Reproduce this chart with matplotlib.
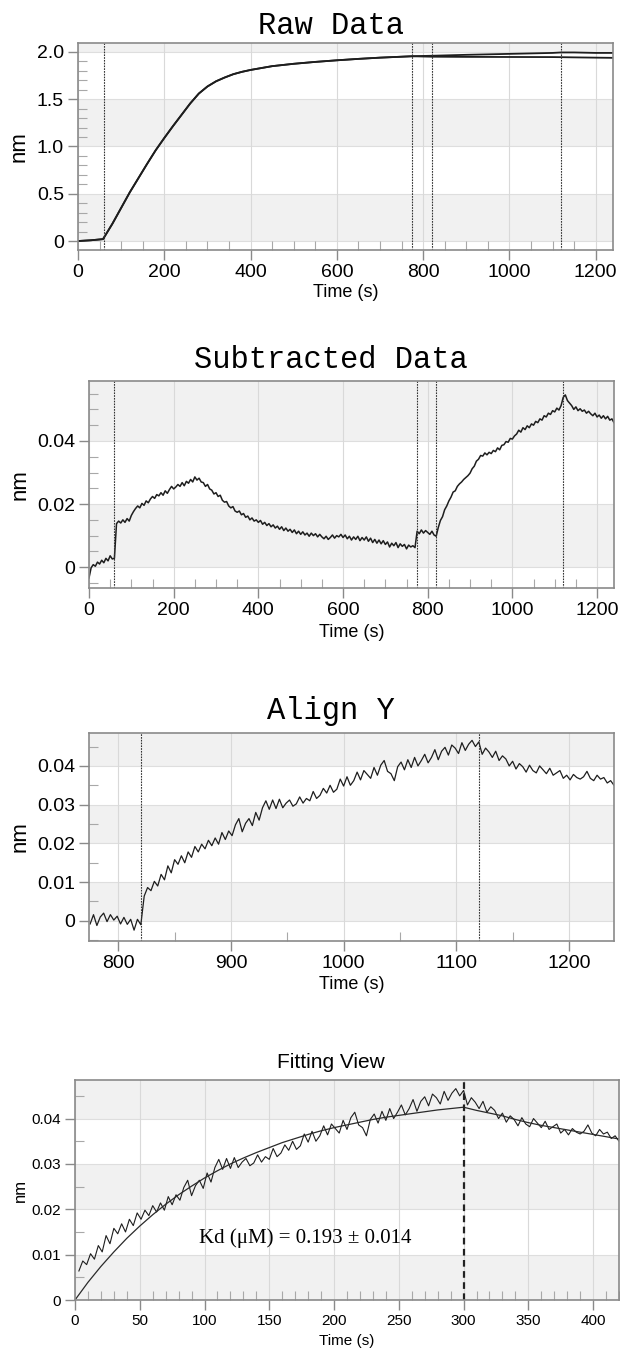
import numpy as np
import matplotlib.pyplot as plt
from matplotlib.ticker import MultipleLocator, FuncFormatter

# ---- Raw Data (nm) ----
raw_time = [0, 30, 58, 80, 100, 120, 140, 160, 180, 200, 220, 240, 260, 280, 300,
            320, 340, 360, 380, 400, 450, 500, 550, 600, 650, 700, 775, 800, 820,
            900, 1000, 1100, 1120, 1150, 1200, 1240]
raw_sample = [0.0, 0.008, 0.02, 0.185, 0.35, 0.515, 0.665, 0.815, 0.96, 1.09, 1.215,
              1.335, 1.455, 1.56, 1.635, 1.69, 1.73, 1.765, 1.79, 1.81, 1.85, 1.875,
              1.895, 1.912, 1.927, 1.94, 1.955, 1.958, 1.96, 1.97, 1.98, 1.99, 1.995,
              1.995, 1.99, 1.99]
raw_reference = [0.0, 0.008, 0.02, 0.185, 0.35, 0.515, 0.665, 0.815, 0.96, 1.09, 1.215,
                 1.335, 1.455, 1.56, 1.635, 1.69, 1.73, 1.765, 1.79, 1.81, 1.85, 1.875,
                 1.895, 1.912, 1.927, 1.94, 1.955, 1.952, 1.95, 1.948, 1.947, 1.946,
                 1.945, 1.943, 1.94, 1.938]

# ---- Subtracted Data, every 5 s from 0 s (units of 1e-3 nm) ----
sub_start, sub_step = 0, 5
sub_values = [
    -3.4, -0.2, 0.8, 0.3, 1.6, 1.0, 2.2, 1.4, 2.8, 2.0,
    3.6, 2.6, 2.8, 13.8, 14.6, 14.0, 15.0, 14.2, 15.4, 14.6,
    16.4, 17.6, 18.6, 19.4, 18.8, 20.2, 19.6, 21.0, 20.4, 21.6,
    22.4, 21.8, 23.0, 22.6, 23.6, 22.8, 24.2, 23.4, 24.6, 25.6,
    24.8, 25.4, 26.2, 25.6, 26.8, 25.8, 27.2, 26.6, 27.8, 27.0,
    28.6, 27.6, 28.2, 27.0, 26.8, 25.6, 26.2, 24.8, 24.4, 23.2,
    23.6, 22.4, 22.8, 21.2, 20.6, 20.8, 19.4, 18.8, 19.2, 17.8,
    17.4, 17.8, 16.6, 17.0, 15.8, 16.2, 15.0, 15.6, 14.6, 15.0,
    14.2, 14.8, 13.6, 14.2, 13.2, 13.8, 12.8, 13.4, 12.4, 13.0,
    12.0, 12.8, 11.6, 12.4, 11.4, 12.0, 11.0, 11.8, 10.6, 11.4,
    10.4, 11.2, 10.2, 10.8, 9.8, 10.8, 10.0, 10.6, 9.6, 10.4,
    9.6, 9.0, 9.8, 8.8, 9.4, 10.2, 9.2, 10.0, 9.6, 10.4,
    9.4, 10.2, 9.0, 9.8, 8.6, 9.6, 8.8, 9.8, 8.4, 9.4,
    8.6, 9.6, 8.2, 9.2, 7.8, 8.8, 7.6, 8.6, 7.4, 8.4,
    7.2, 8.0, 6.4, 7.6, 6.8, 7.8, 6.2, 7.4, 6.6, 7.2,
    5.8, 7.0, 6.4, 6.8, 6.2, 11.4, 10.6, 11.8, 10.8, 11.6,
    11.0, 10.4, 11.4, 10.2, 9.8, 12.6, 14.8, 16.0, 18.2, 19.4,
    21.0, 22.2, 23.8, 24.2, 25.6, 26.4, 27.0, 27.8, 28.4, 29.0,
    29.8, 31.2, 32.0, 33.6, 34.2, 35.4, 35.2, 36.2, 35.6, 36.4,
    36.0, 37.0, 36.6, 37.8, 37.2, 38.6, 38.8, 39.8, 39.6, 40.8,
    40.6, 41.6, 42.2, 43.4, 42.8, 44.2, 43.6, 44.8, 44.2, 45.4,
    45.0, 46.2, 45.8, 47.0, 46.6, 48.0, 47.6, 48.8, 48.4, 49.6,
    49.2, 50.4, 49.8, 51.2, 53.8, 54.6, 52.8, 52.0, 51.2, 50.0,
    50.8, 49.6, 50.2, 49.4, 49.8, 48.8, 49.4, 48.6, 48.0, 48.8,
    47.6, 48.2, 47.2, 48.0, 47.0, 47.8, 46.6, 47.0, 45.8,
]

# ---- Align Y, every 3 s from 775 s (units of 1e-3 nm) ----
align_start, align_step = 775, 3
align_values = [
    -0.8, 1.6, -1.2, 1.0, 2.0, -0.2, 1.6, 0.2, 1.2, -0.8, 0.9, -0.9, 0.4, -2.4, 0.4,
    -1.0,
    6.4, 8.6, 7.8, 10.2, 9.0, 12.0, 10.6, 14.2, 12.4, 15.8,
    14.6, 16.8, 15.0, 17.8, 16.4, 19.2, 17.8, 19.8, 18.6, 20.8,
    19.4, 21.4, 19.8, 22.8, 21.0, 23.2, 22.0, 24.8, 26.4, 23.0,
    25.2, 26.4, 24.6, 28.0, 26.0, 29.2, 31.0, 28.8, 31.2, 29.0,
    31.4, 29.2, 30.4, 31.2, 29.6, 30.2, 32.0, 30.4, 31.6, 31.0,
    33.4, 31.6, 32.4, 34.2, 33.0, 35.0, 33.2, 34.0, 36.6, 34.8,
    37.2, 35.0, 36.2, 38.4, 36.4, 38.8, 37.8, 36.8, 39.6, 37.6,
    40.2, 41.4, 38.6, 38.0, 36.2, 39.8, 41.0, 39.0, 41.6, 39.6,
    42.2, 40.0, 41.4, 43.0, 40.8, 42.2, 44.2, 41.6, 43.8, 44.8,
    42.8, 45.4, 44.6, 43.2, 46.0, 44.0, 45.6, 46.6, 45.0, 46.2,
    43.0, 44.6, 43.6, 42.2, 43.8, 41.4, 42.6, 41.8, 40.0, 41.2,
    39.2, 40.6, 39.8, 38.4, 40.2, 38.8, 38.2, 40.0, 39.0, 38.0,
    39.4, 37.6, 38.2, 38.8, 36.8, 37.6, 36.4, 37.8, 37.0, 36.6,
    37.2, 38.6, 36.8, 36.2, 37.6, 36.6, 37.0, 35.6, 36.2, 35.0,
]

# ---- Fitting View: fitted curve every 10 s (units of 1e-3 nm) ----
fit_time = list(range(0, 421, 10))
fit_values = [0.0, 3.9, 7.4, 10.6, 13.6, 16.3, 18.8, 21.1, 23.2, 25.1, 26.9, 28.5,
              30.0, 31.3, 32.5, 33.6, 34.7, 35.6, 36.5, 37.3, 38.0, 38.6, 39.2, 39.8,
              40.3, 40.7, 41.1, 41.5, 41.9, 42.2, 42.5, 41.8, 41.2, 40.6, 39.8, 39.1,
              38.5, 38.0, 37.5, 37.0, 36.5, 36.0, 35.5]

step_events = [60, 775, 820, 1120]
fit_start = 820
fit_switch = 300

sub_time = sub_start + sub_step * np.arange(len(sub_values))
sub_nm = np.array(sub_values) / 1000
align_time = align_start + align_step * np.arange(len(align_values))
align_nm = np.array(align_values) / 1000
keep = align_time > fit_start
fitview_time = align_time[keep] - fit_start
fitview_nm = align_nm[keep]
fit_nm = np.array(fit_values) / 1000

plt.rcParams['font.family'] = ['Liberation Sans', 'DejaVu Sans']

BAND = '#f1f1f1'
GRID = '#d9d9d9'
SPINE = '#8a8a8a'
TRACE = '#1e1e1e'

fig = plt.figure(figsize=(6.2, 13.5), dpi=100)


def add_ax(left, top, right, bottom):
    return fig.add_axes([left / 620, 1 - bottom / 1350,
                         (right - left) / 620, (bottom - top) / 1350])


def zero_fmt(decimals):
    return FuncFormatter(lambda v, p: '0' if abs(v) < 1e-12 else f'{v:.{decimals}f}')


def style(ax, xlim, ylim, xmaj, xmin, ymaj, ymin, bands, decimals, size, ylab_x, xlab_y,
          nm_size, time_size):
    ax.set_xlim(*xlim)
    ax.set_ylim(*ylim)
    for lo, hi in bands:
        ax.axhspan(lo, hi, color=BAND, lw=0, zorder=0)
    ax.xaxis.set_major_locator(MultipleLocator(xmaj))
    ax.xaxis.set_minor_locator(MultipleLocator(xmin))
    ax.yaxis.set_major_locator(MultipleLocator(ymaj))
    ax.yaxis.set_minor_locator(MultipleLocator(ymin))
    ax.yaxis.set_major_formatter(zero_fmt(decimals))
    ax.grid(axis='x', which='major', color=GRID, lw=0.8, zorder=0.5)
    for y in ax.get_yticks():
        if ylim[0] <= y <= ylim[1]:
            ax.axhline(y, color='#dedede', lw=0.8, zorder=0.5)
    ax.set_axisbelow(True)
    for s in ax.spines.values():
        s.set_color(SPINE)
        s.set_linewidth(1.2)
    ax.tick_params(which='major', direction='out', length=7, width=1, color=SPINE,
                   labelsize=size, pad=3)
    ax.tick_params(which='minor', direction='in', length=6.5, width=0.8, color='#a8a8a8')
    ax.set_xlabel('Time (s)', fontsize=time_size, va='top')
    ax.set_ylabel('nm', fontsize=nm_size)
    ax.yaxis.set_label_coords(ylab_x, 0.5)
    ax.xaxis.set_label_coords(0.5, xlab_y)


def mono_title(y, text):
    fig.text(331 / 620, 1 - y / 1350, text, family='Liberation Mono', fontsize=22,
             ha='center', va='center')


# Raw Data
ax1 = add_ax(78, 43, 613, 250)
style(ax1, (0, 1240), (-0.095, 2.095), 200, 50, 0.5, 0.1,
      [(0, 0.5), (1.0, 1.5), (2.0, 2.2)], 1, 14, -0.09, -0.165, 16, 13)
ax1.plot(raw_time, raw_reference, color=TRACE, lw=1.3)
ax1.plot(raw_time, raw_sample, color=TRACE, lw=1.3)
for t in step_events:
    ax1.axvline(t, color='#333333', lw=0.8, ls=(0, (1.5, 1)))
mono_title(26, 'Raw Data')

# Subtracted Data
ax2 = add_ax(89, 381, 614, 588)
style(ax2, (0, 1240), (-0.0066, 0.059), 200, 50, 0.02, 0.005,
      [(0, 0.02), (0.04, 0.07)], 2, 14, -0.112, -0.175, 16, 13)
ax2.plot(sub_time, sub_nm, color=TRACE, lw=1.1)
for t in step_events:
    ax2.axvline(t, color='#333333', lw=0.8, ls=(0, (1.5, 1)))
mono_title(360, 'Subtracted Data')

# Align Y
ax3 = add_ax(89, 733, 614, 941)
style(ax3, (774, 1240), (-0.0052, 0.0485), 100, 50, 0.01, 0.005,
      [(0, 0.01), (0.02, 0.03), (0.04, 0.06)], 2, 14, -0.112, -0.17, 16, 13)
ax3.plot(align_time, align_nm, color=TRACE, lw=0.9)
for t in step_events[2:]:
    ax3.axvline(t, color='#333333', lw=0.8, ls=(0, (1.5, 1)))
mono_title(711, 'Align Y')

# Fitting View
ax4 = add_ax(75, 1080, 619, 1300)
style(ax4, (0, 420), (0, 0.0485), 50, 10, 0.01, 0.005,
      [(0, 0.01), (0.02, 0.03), (0.04, 0.06)], 2, 11, -0.086, -0.155, 12, 11)
ax4.plot(fitview_time, fitview_nm, color=TRACE, lw=0.8)
ax4.plot(fit_time, fit_nm, color='#2a2a2a', lw=0.9)
ax4.axvline(fit_switch, color='#222222', lw=1.6, ls=(0, (3, 2)))
ax4.text(96, 0.0137, 'Kd (\u03bcM) = 0.193 \u00b1 0.014', family='Liberation Serif',
         fontsize=15, ha='left', va='center')
fig.text(331 / 620, 1 - 1062 / 1350, 'Fitting View', fontsize=15, ha='center', va='center')

fig.savefig('out.png', dpi=100)
